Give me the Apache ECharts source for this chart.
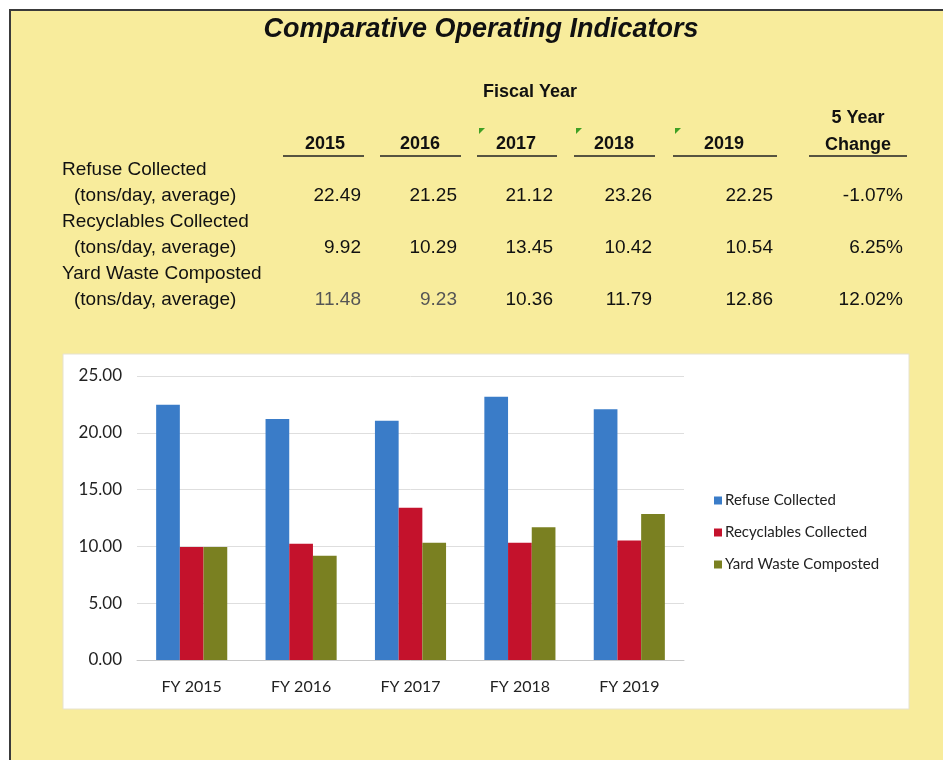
<!DOCTYPE html>
<html>
<head>
<meta charset="utf-8">
<title>Comparative Operating Indicators</title>
<script src="https://cdn.jsdelivr.net/npm/echarts@6/dist/echarts.min.js"></script>
<style>
  html, body { margin: 0; padding: 0; background: #fff; }
  #main { width: 943px; height: 760px; }
</style>
</head>
<body>
<div id="main"></div>
<script>
// table data
var years = ['2015', '2016', '2017', '2018', '2019'];
var rowNames = ['Refuse Collected', 'Recyclables Collected', 'Yard Waste Composted'];
var tableRefuse = [22.49, 21.25, 21.12, 23.26, 22.25];
var tableRecycle = [9.92, 10.29, 13.45, 10.42, 10.54];
var tableYard = [11.48, 9.23, 10.36, 11.79, 12.86];
var fiveYearChange = ['-1.07%', '6.25%', '12.02%'];

// chart data
var categories = ['FY 2015', 'FY 2016', 'FY 2017', 'FY 2018', 'FY 2019'];
var seriesNames = ['Refuse Collected', 'Recyclables Collected', 'Yard Waste Composted'];
var refuse = [22.47, 21.22, 21.07, 23.17, 22.08];
var recyclables = [9.94, 10.24, 13.4, 10.33, 10.52];
var yardWaste = [9.94, 9.18, 10.33, 11.68, 12.85];
var yTicks = [0, 5, 10, 15, 20, 25];

var myChart = echarts.init(document.getElementById('main'));

var tableFont = '"Liberation Sans", Arial, sans-serif';
var chartFont = 'Lato, "Open Sans", sans-serif';

// column positions of the table (right edge of numbers / header centre)
var colRight = [361, 457, 553, 652, 773];
var colCenter = [325, 420, 516, 614, 724];
var colLine = [[283, 364], [380, 461], [477, 557], [574, 655], [673, 777]];
var changeRight = 903;
var rowTop = [170, 222, 274];

var graphics = [];

// page background and frame
graphics.push({
    type: 'rect', z: -20, silent: true,
    shape: {x: 10, y: 10, width: 960, height: 780},
    style: {fill: '#f8ec9c', stroke: '#3a3a3a', lineWidth: 2}
});
// white chart box
graphics.push({
    type: 'rect', z: -10, silent: true,
    shape: {x: 63, y: 354, width: 846, height: 355},
    style: {fill: '#ffffff', stroke: '#e6e2cf', lineWidth: 1}
});

function txt(x, y, s, opt) {
    opt = opt || {};
    graphics.push({
        type: 'text', z: 10, silent: true, x: x, y: y,
        style: {
            text: s,
            fill: opt.color || '#111',
            font: (opt.style || '') + ' ' + (opt.weight || 'normal') + ' ' + (opt.size || 19) + 'px ' + tableFont,
            textAlign: opt.align || 'left',
            textVerticalAlign: 'middle'
        }
    });
}

txt(481, 30, 'Comparative Operating Indicators', {style: 'italic', weight: 'bold', size: 27, align: 'center'});
txt(530, 92, 'Fiscal Year', {weight: 'bold', size: 18, align: 'center'});

years.forEach(function (y, i) {
    txt(colCenter[i], 144, y, {weight: 'bold', size: 18, align: 'center'});
    graphics.push({
        type: 'line', z: 10, silent: true,
        shape: {x1: colLine[i][0], y1: 156, x2: colLine[i][1], y2: 156},
        style: {stroke: '#222', lineWidth: 1.5}
    });
});
txt(858, 118, '5 Year', {weight: 'bold', size: 18, align: 'center'});
txt(858, 145, 'Change', {weight: 'bold', size: 18, align: 'center'});
graphics.push({
    type: 'line', z: 10, silent: true,
    shape: {x1: 809, y1: 156, x2: 907, y2: 156},
    style: {stroke: '#222', lineWidth: 1.5}
});

// small green corner marks on 2017-2019
[2, 3, 4].forEach(function (i) {
    var x0 = colLine[i][0] + 2;
    graphics.push({
        type: 'polygon', z: 10, silent: true,
        shape: {points: [[x0, 128], [x0 + 6, 128], [x0, 134]]},
        style: {fill: '#3fa024'}
    });
});

var tableRows = [tableRefuse, tableRecycle, tableYard];
rowNames.forEach(function (name, r) {
    txt(62, rowTop[r], name);
    txt(74, rowTop[r] + 26, '(tons/day, average)');
    tableRows[r].forEach(function (v, i) {
        var light = (r === 2 && (i === 0 || i === 1));
        txt(colRight[i], rowTop[r] + 26, v.toFixed(2), {align: 'right', color: light ? '#555' : '#111'});
    });
    txt(changeRight, rowTop[r] + 26, fiveYearChange[r], {align: 'right'});
});

option = {
    backgroundColor: '#ffffff',
    animation: false,
    color: ['#3a7cc8', '#c4122c', '#7a8021'],
    graphic: graphics,
    grid: {
        left: 137,
        right: 259,
        top: 376,
        bottom: 100,
        containLabel: false
    },
    legend: {
        orient: 'vertical',
        left: 709,
        top: 488,
        itemWidth: 8,
        itemHeight: 8,
        itemGap: 17,
        icon: 'rect',
        data: seriesNames,
        textStyle: {fontFamily: chartFont, fontSize: 15, color: '#222', padding: [0, 0, 0, -2]}
    },
    xAxis: {
        type: 'category',
        data: categories,
        axisTick: {show: false},
        axisLine: {lineStyle: {color: '#c8c8c8'}},
        axisLabel: {fontFamily: chartFont, fontSize: 16, color: '#222', margin: 19}
    },
    yAxis: {
        type: 'value',
        min: yTicks[0],
        max: yTicks[yTicks.length - 1],
        interval: 5,
        axisLine: {show: false},
        axisTick: {show: false},
        splitLine: {lineStyle: {color: '#dedede'}},
        axisLabel: {
            fontFamily: chartFont, fontSize: 17, color: '#222', margin: 15,
            formatter: function (v) { return v.toFixed(2); }
        }
    },
    series: [
        {name: seriesNames[0], type: 'bar', data: refuse, barGap: '0%', barCategoryGap: '35%'},
        {name: seriesNames[1], type: 'bar', data: recyclables, barGap: '0%', barCategoryGap: '35%'},
        {name: seriesNames[2], type: 'bar', data: yardWaste, barGap: '0%', barCategoryGap: '35%'}
    ]
};

myChart.setOption(option);
</script>
</body>
</html>
